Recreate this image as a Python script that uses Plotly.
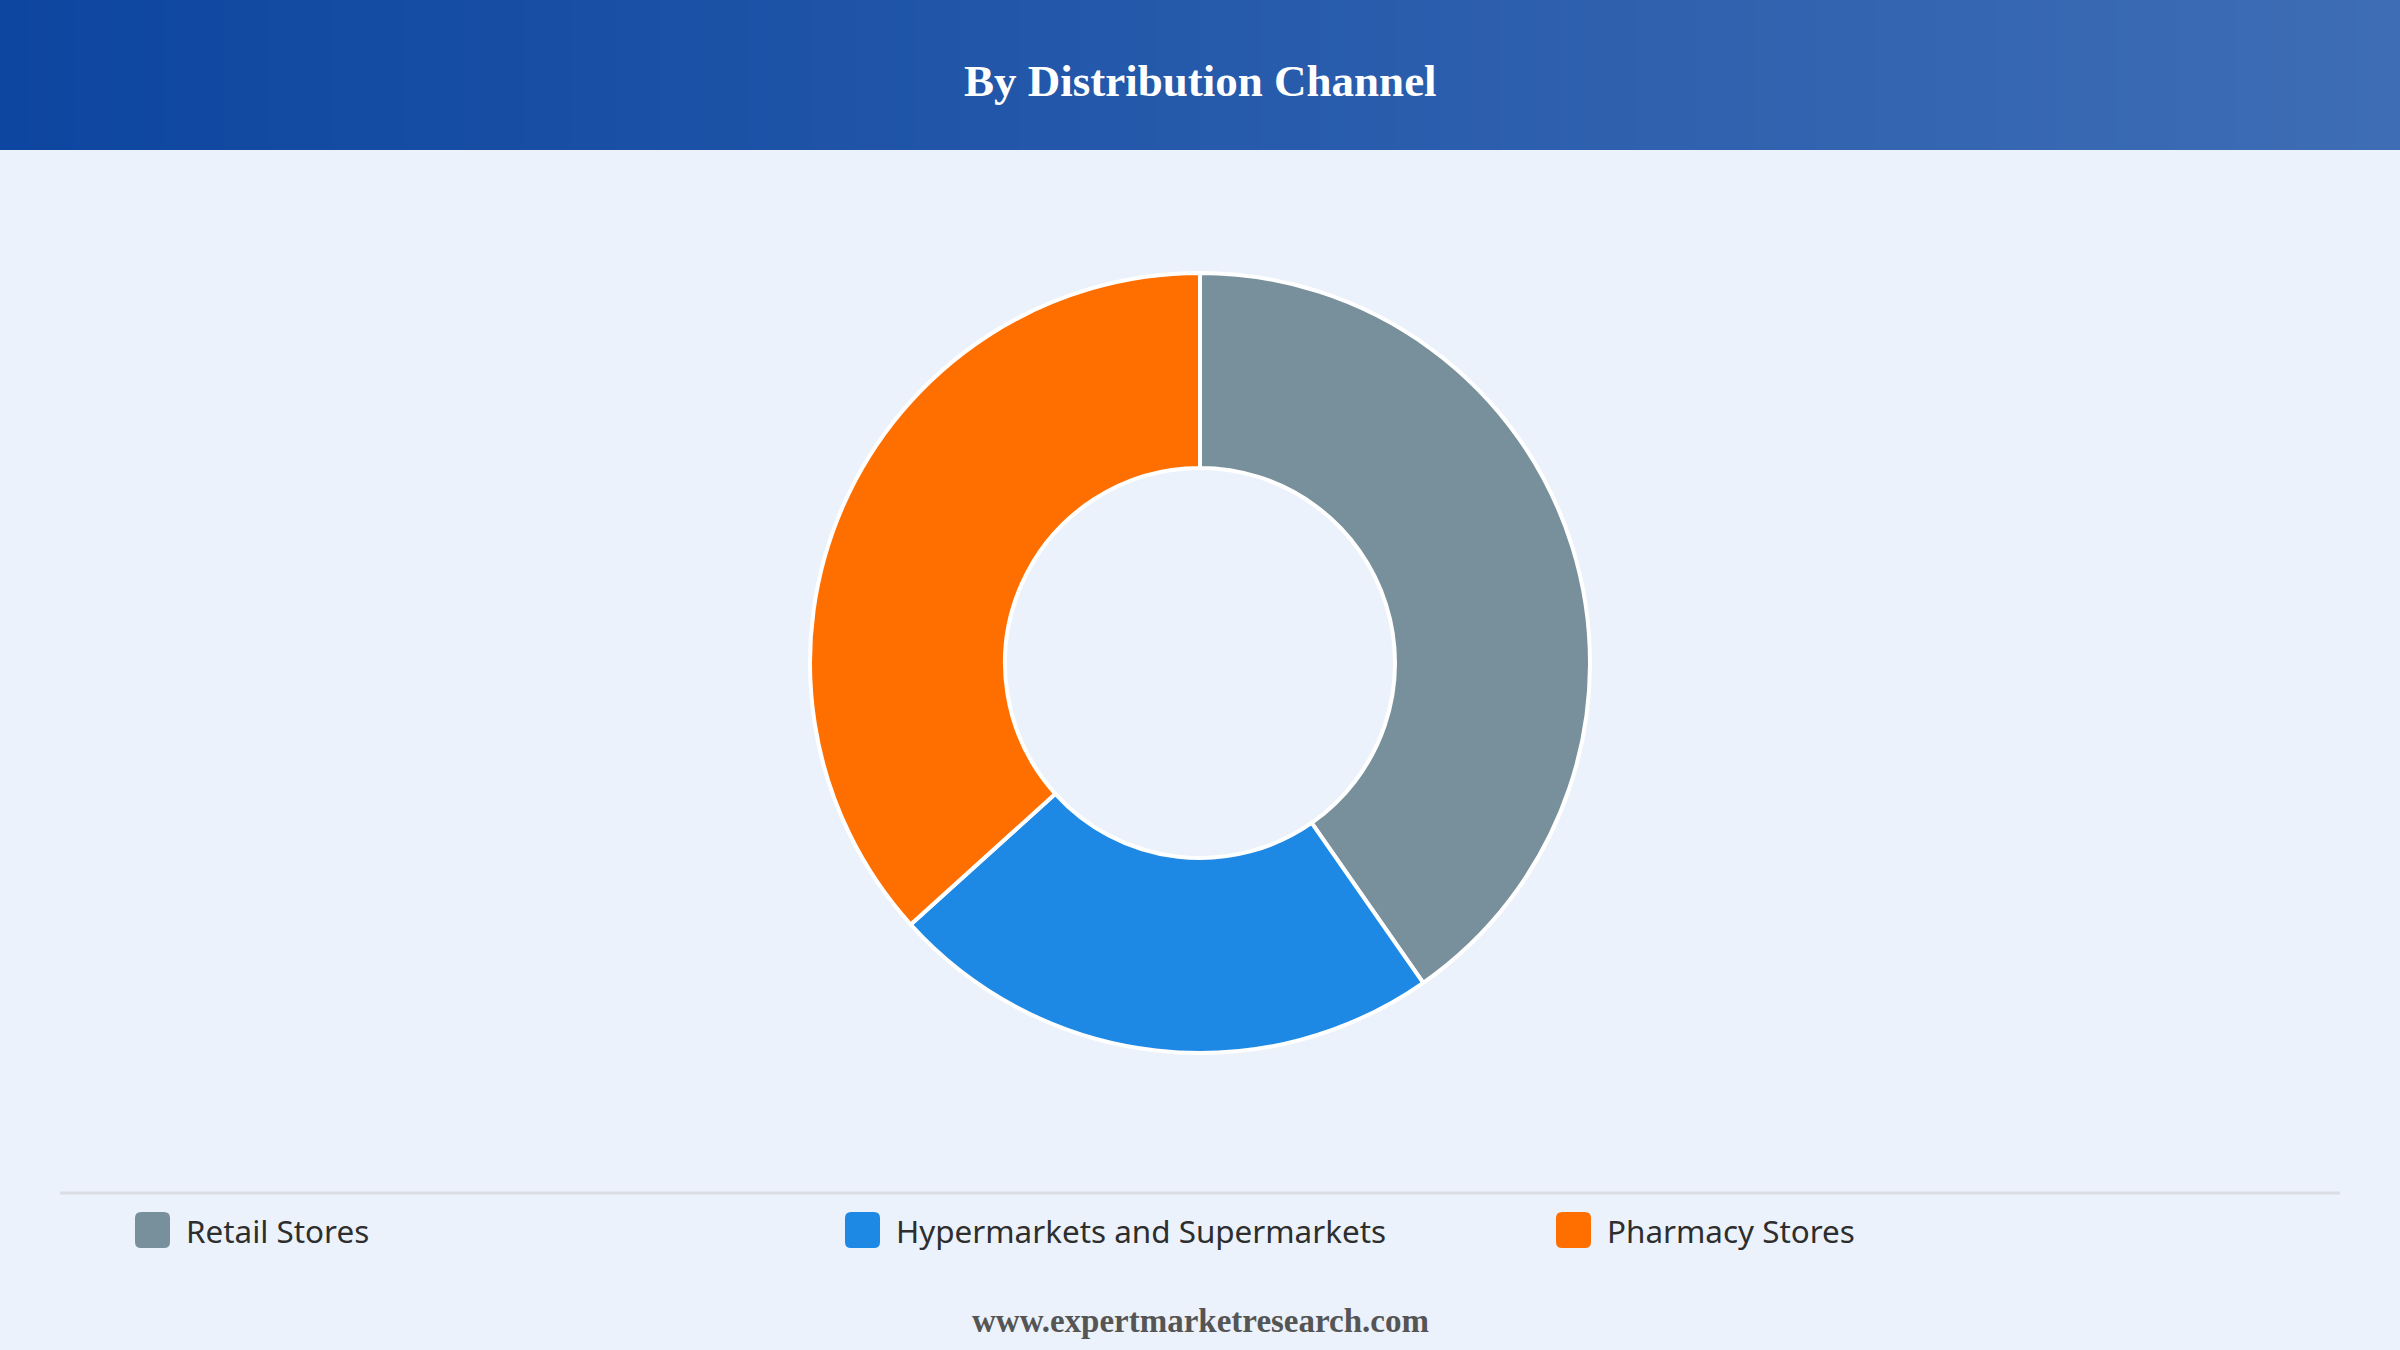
import plotly.graph_objects as go

# ---- data ----
categories = ["Retail Stores", "Hypermarkets and Supermarkets", "Pharmacy Stores"]
shares = [40.3, 23.0, 36.7]
colors = ["#78909C", "#1E88E5", "#FF6F00"]
title_text = "By Distribution Channel"
footer_text = "www.expertmarketresearch.com"

W, H = 2400, 1350
BG = "#EBF2FB"

def px_x(x):
    return x / W

def px_y(y):
    return 1 - y / H

fig = go.Figure()

fig.add_trace(go.Pie(
    labels=categories,
    values=shares,
    hole=0.5,
    sort=False,
    direction="clockwise",
    rotation=0,
    marker=dict(colors=colors, line=dict(color="white", width=4)),
    textinfo="none",
    hoverinfo="label+percent",
    showlegend=False,
    domain=dict(x=[px_x(1200 - 390), px_x(1200 + 390)],
                y=[px_y(663 + 390), px_y(663 - 390)]),
))

shapes = []
# header gradient band
c0 = (13, 70, 160)
c1 = (62, 109, 181)
n = 160
for i in range(n):
    t = i / (n - 1)
    c = tuple(round(c0[k] + (c1[k] - c0[k]) * t) for k in range(3))
    shapes.append(dict(type="rect", xref="paper", yref="paper",
                       x0=i / n, x1=(i + 1) / n + 0.001, y0=px_y(150), y1=1,
                       fillcolor="rgb(%d,%d,%d)" % c, line=dict(width=0), layer="below"))

# separator line
shapes.append(dict(type="line", xref="paper", yref="paper",
                   x0=px_x(60), x1=px_x(2340), y0=px_y(1193), y1=px_y(1193),
                   line=dict(color="#DADDE2", width=3)))

annotations = [
    dict(text="<b>" + title_text + "</b>", x=0.5, y=px_y(81), xref="paper", yref="paper",
         xanchor="center", yanchor="middle", showarrow=False,
         font=dict(family="Liberation Serif, Times New Roman, serif", size=45, color="white")),
    dict(text="<b>" + footer_text + "</b>", x=0.5, y=px_y(1321), xref="paper", yref="paper",
         xanchor="center", yanchor="middle", showarrow=False,
         font=dict(family="Liberation Serif, Times New Roman, serif", size=33, color="#555555")),
]

# custom legend
item_x = [135, 845, 1556]
sw, sh, r = 35, 36, 6
cy = 1230
for lab, col, x in zip(categories, colors, item_x):
    x0, x1 = x, x + sw
    y0, y1 = cy - sh / 2, cy + sh / 2
    X = lambda v: px_x(v)
    Y = lambda v: px_y(v)
    path = (f"M {X(x0 + r)},{Y(y0)} L {X(x1 - r)},{Y(y0)} Q {X(x1)},{Y(y0)} {X(x1)},{Y(y0 + r)} "
            f"L {X(x1)},{Y(y1 - r)} Q {X(x1)},{Y(y1)} {X(x1 - r)},{Y(y1)} "
            f"L {X(x0 + r)},{Y(y1)} Q {X(x0)},{Y(y1)} {X(x0)},{Y(y1 - r)} "
            f"L {X(x0)},{Y(y0 + r)} Q {X(x0)},{Y(y0)} {X(x0 + r)},{Y(y0)} Z")
    shapes.append(dict(type="path", xref="paper", yref="paper", path=path,
                       fillcolor=col, line=dict(width=0)))
    annotations.append(dict(text=lab, x=px_x(x + 49), y=px_y(cy), xref="paper", yref="paper",
                            xanchor="left", yanchor="middle", showarrow=False,
                            font=dict(family="Noto Sans, Open Sans, sans-serif", size=31.4, color="#2E2E2E")))

fig.update_layout(
    width=W, height=H,
    margin=dict(l=0, r=0, t=0, b=0),
    paper_bgcolor=BG, plot_bgcolor=BG,
    shapes=shapes, annotations=annotations,
    showlegend=False,
)

fig.write_html("out.html", config=dict(displayModeBar=False))
